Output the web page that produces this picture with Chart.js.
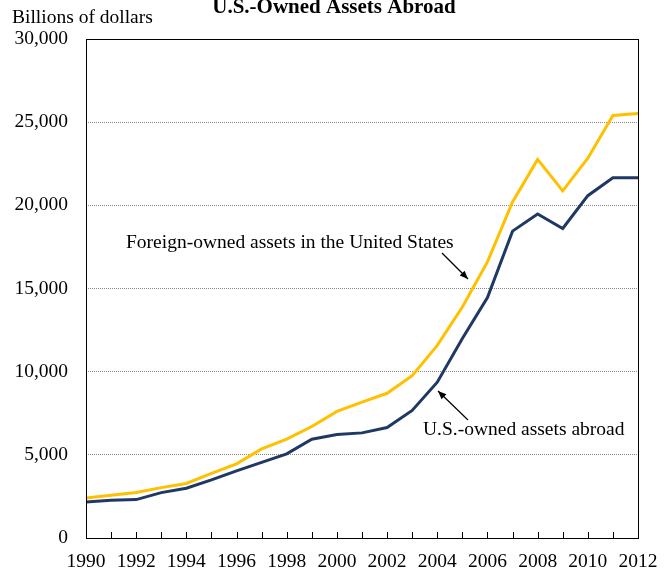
<!DOCTYPE html>
<html>
<head>
<meta charset="utf-8">
<script src="https://cdn.jsdelivr.net/npm/chart.js@4.4.1/dist/chart.umd.min.js"></script>
<style>
    body { margin: 0; background: #fff; }
    #box { width: 672px; height: 571px; }
</style>
</head>
<body>
<div id="box"><canvas id="myChart"></canvas></div>
<script>
// dados
const anos = [1990, 1991, 1992, 1993, 1994, 1995, 1996, 1997, 1998, 1999, 2000, 2001,
    2002, 2003, 2004, 2005, 2006, 2007, 2008, 2009, 2010, 2011, 2012];
const ativosEstrangeiros = [2410, 2570, 2730, 3030, 3280, 3890, 4460, 5360, 5940, 6700, 7610, 8170,
    8700, 9760, 11580, 13890, 16600, 20200, 22760, 20870, 22830, 25400, 25520];
const ativosEUA = [2170, 2270, 2310, 2730, 2990, 3490, 4040, 4550, 5060, 5940, 6220, 6320,
    6640, 7670, 9370, 11990, 14460, 18450, 19480, 18610, 20580, 21660, 21660];
const ticksY = [0, 5000, 10000, 15000, 20000, 25000, 30000];

const fonte = '"Liberation Serif", "Times New Roman", serif';

const extras = {
    id: 'extras',
    afterDraw(chart) {
        const ctx = chart.ctx;
        const a = chart.chartArea;
        const x = chart.scales.x;
        ctx.save();
        // moldura
        ctx.strokeStyle = '#000';
        ctx.lineWidth = 1;
        ctx.strokeRect(a.left + 0.5, a.top + 0.5, a.right - a.left, a.bottom - a.top);
        // marcas do eixo x para dentro
        anos.forEach(ano => {
            const px = Math.round(x.getPixelForValue(ano)) + 0.5;
            ctx.beginPath();
            ctx.moveTo(px, a.bottom);
            ctx.lineTo(px, a.bottom - 6);
            ctx.stroke();
        });
        // textos
        ctx.fillStyle = '#000';
        ctx.font = 'bold 21px ' + fonte;
        ctx.textAlign = 'center';
        ctx.textBaseline = 'alphabetic';
        ctx.fillText('U.S.-Owned Assets Abroad', 334, 13);
        ctx.font = '19.5px ' + fonte;
        ctx.textAlign = 'left';
        ctx.fillText('Billions of dollars', 12, 23);
        ctx.fillText('Foreign-owned assets in the United States', 126, 248);
        ctx.fillText('U.S.-owned assets abroad', 423, 435);
        // setas
        seta(ctx, 442, 253, 468, 279);
        seta(ctx, 468, 420, 438, 391);
        ctx.restore();
    }
};

function seta(ctx, x1, y1, x2, y2) {
    const ang = Math.atan2(y2 - y1, x2 - x1);
    ctx.strokeStyle = '#000';
    ctx.lineWidth = 1.2;
    ctx.beginPath();
    ctx.moveTo(x1, y1);
    ctx.lineTo(x2, y2);
    ctx.stroke();
    ctx.beginPath();
    ctx.moveTo(x2, y2);
    ctx.lineTo(x2 - 9 * Math.cos(ang - 0.4), y2 - 9 * Math.sin(ang - 0.4));
    ctx.lineTo(x2 - 9 * Math.cos(ang + 0.4), y2 - 9 * Math.sin(ang + 0.4));
    ctx.closePath();
    ctx.fill();
}

const ctx1 = document.getElementById('myChart');

new Chart(ctx1, {
    type: 'line',
    data: {
        datasets: [
            {
                label: 'Foreign-owned assets in the United States',
                data: anos.map((a, i) => ({ x: a, y: ativosEstrangeiros[i] })),
                borderColor: '#FFC000',
                borderWidth: 3,
                pointRadius: 0,
                tension: 0
            },
            {
                label: 'U.S.-owned assets abroad',
                data: anos.map((a, i) => ({ x: a, y: ativosEUA[i] })),
                borderColor: '#1F3864',
                borderWidth: 3,
                pointRadius: 0,
                tension: 0
            }
        ]
    },
    options: {
        responsive: true,
        maintainAspectRatio: false,
        animation: false,
        layout: { padding: { top: 39, right: 34, left: 0, bottom: 0 } },
        plugins: {
            legend: { display: false },
            tooltip: { enabled: false }
        },
        scales: {
            x: {
                type: 'linear',
                min: 1990,
                max: 2012,
                afterFit(scale) { scale.height = 33; },
                afterBuildTicks(scale) {
                    scale.ticks = anos.filter(a => a % 2 === 0).map(a => ({ value: a }));
                },
                grid: { display: false },
                border: { display: false },
                ticks: {
                    color: '#000',
                    font: { family: fonte, size: 19.5 },
                    padding: 4,
                    maxRotation: 0,
                    autoSkip: false,
                    callback: v => String(v)
                }
            },
            y: {
                min: 0,
                max: 30000,
                afterFit(scale) { scale.width = 86; },
                afterBuildTicks(scale) {
                    scale.ticks = ticksY.map(v => ({ value: v }));
                },
                grid: {
                    color: '#888',
                    lineWidth: 1,
                    drawTicks: false
                },
                border: { display: false, dash: [1, 1] },
                ticks: {
                    color: '#000',
                    font: { family: fonte, size: 19.5 },
                    padding: 18,
                    callback: v => v.toLocaleString('en-US')
                }
            }
        }
    },
    plugins: [extras]
});
</script>
</body>
</html>
